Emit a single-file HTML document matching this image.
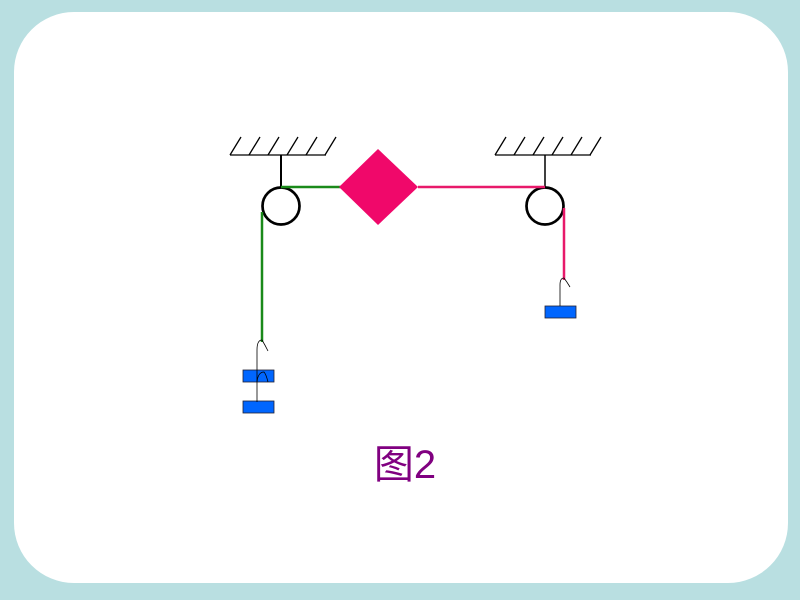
<!DOCTYPE html>
<html><head><meta charset="utf-8"><style>
html,body{margin:0;padding:0;width:800px;height:600px;overflow:hidden;background:#b9dfe1}
svg{display:block}
</style></head><body>
<svg width="800" height="600" viewBox="0 0 800 600">
<rect x="0" y="0" width="800" height="600" fill="#b9dfe1"/>
<rect x="14" y="12" width="774" height="571" rx="60" ry="60" fill="#fff"/>
<g stroke="#000" stroke-width="1.3" fill="none">
<line x1="230" y1="155" x2="326" y2="155"/>
<line x1="230" y1="155" x2="241" y2="137"/>
<line x1="249" y1="155" x2="260" y2="137"/>
<line x1="268" y1="155" x2="279" y2="137"/>
<line x1="287" y1="155" x2="298" y2="137"/>
<line x1="306" y1="155" x2="317" y2="137"/>
<line x1="325" y1="155" x2="336" y2="137"/>
<line x1="495" y1="155" x2="591" y2="155"/>
<line x1="495" y1="155" x2="506" y2="137"/>
<line x1="514" y1="155" x2="525" y2="137"/>
<line x1="533" y1="155" x2="544" y2="137"/>
<line x1="552" y1="155" x2="563" y2="137"/>
<line x1="571" y1="155" x2="582" y2="137"/>
<line x1="590" y1="155" x2="601" y2="137"/>
</g>
<line x1="281" y1="155" x2="281" y2="187" stroke="#000" stroke-width="2"/>
<line x1="545" y1="155" x2="545" y2="187" stroke="#000" stroke-width="1.5"/>
<circle cx="281" cy="206" r="18.5" fill="#fff" stroke="#000" stroke-width="2.7"/>
<circle cx="545" cy="206" r="18.5" fill="#fff" stroke="#000" stroke-width="2.7"/>
<polyline points="281,187 344,187" stroke="#1a8a1a" stroke-width="2.5" fill="none"/>
<line x1="262" y1="212" x2="262" y2="342" stroke="#1a8a1a" stroke-width="2.5"/>
<line x1="418" y1="187" x2="545" y2="187" stroke="#e8196a" stroke-width="2.5"/>
<line x1="564" y1="208" x2="564" y2="280" stroke="#e8196a" stroke-width="2.5"/>
<polygon points="378,149 418,187 378,225 339,187" fill="#f0086a"/>
<rect x="243" y="370" width="31" height="12" fill="#0066ff" stroke="#223" stroke-width="0.8"/>
<rect x="243" y="401" width="31" height="12" fill="#0066ff" stroke="#223" stroke-width="0.8"/>
<rect x="545" y="306" width="31" height="12" fill="#0066ff" stroke="#223" stroke-width="0.8"/>
<g stroke="#000" stroke-width="0.8" fill="none">
<path d="M262,340 Q257,340 257,350 L257,402 M262,340 Q265,345 268,351"/>
<path d="M257,382 Q258,372 264,372 Q266,374 268,382"/>
<path d="M564,278 Q560,278 560,285 L560,306 M564,278 Q567,282 570,287"/>
</g>
<text x="405" y="478" font-family="Liberation Sans, Noto Sans CJK SC, sans-serif" font-size="40" fill="#800080" text-anchor="middle">图2</text>
</svg>
</body></html>
